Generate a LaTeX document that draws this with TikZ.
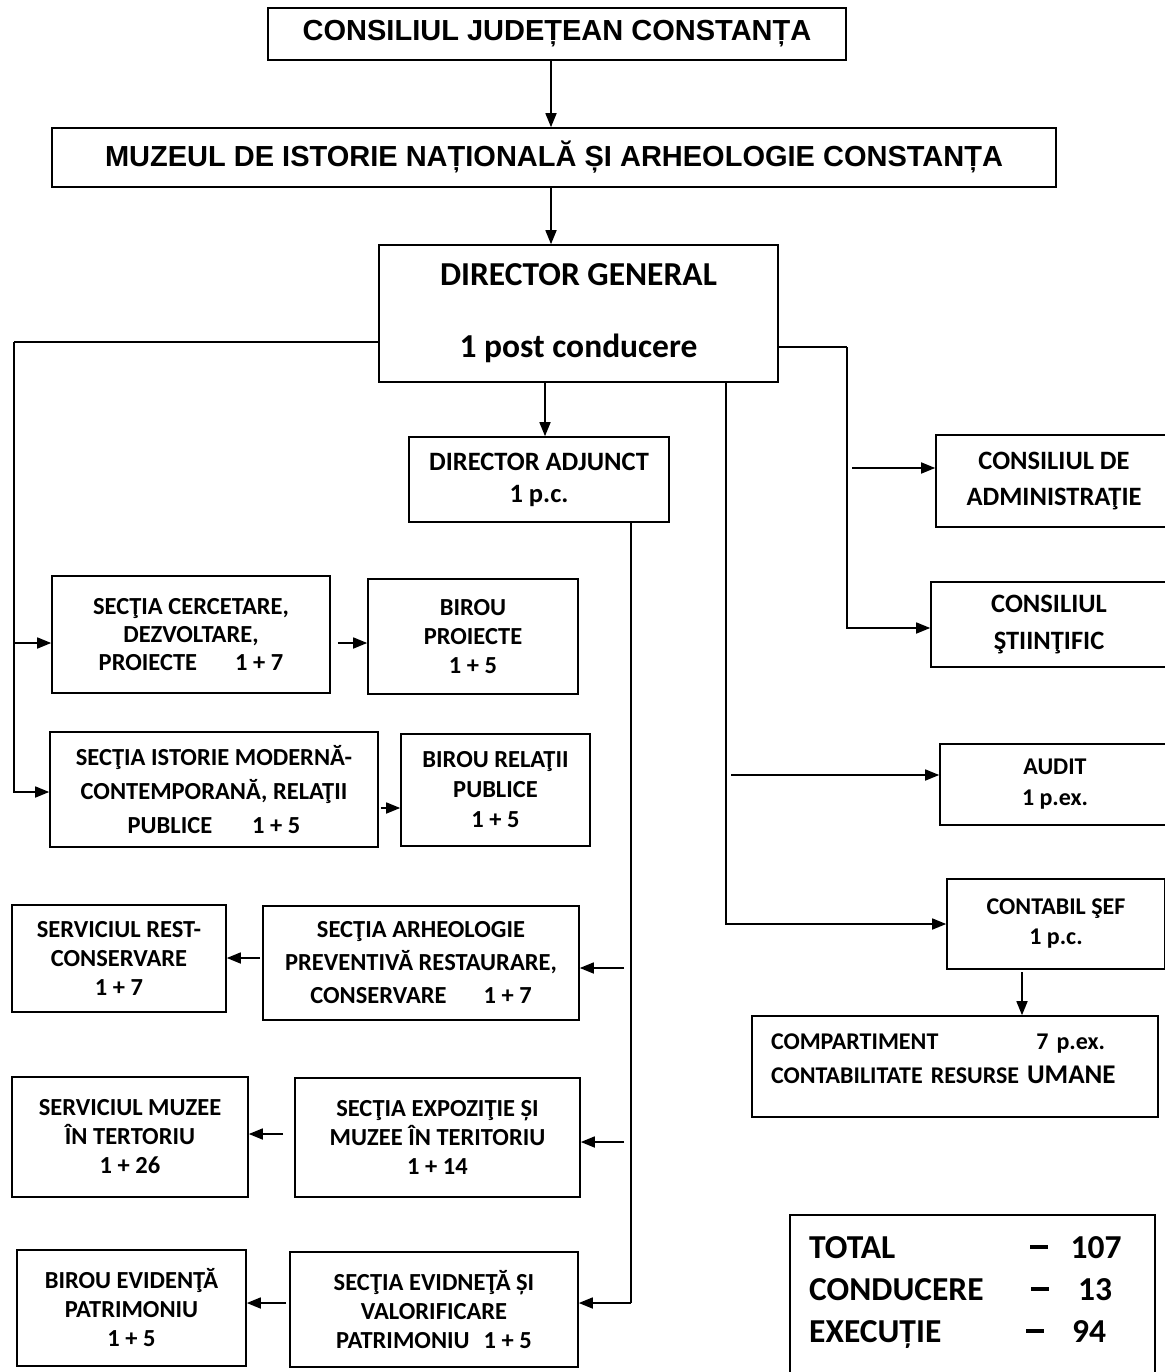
\documentclass[tikz,border=0pt]{standalone}
\usepackage{fontspec}
\setmainfont{Carlito}
\newfontfamily\arialfont{Liberation Sans}
\usetikzlibrary{arrows.meta}
\begin{document}
\begin{tikzpicture}[x=1pt,y=-1pt,
  box/.style={draw, line width=1.6pt, inner sep=0pt, align=center},
  f24/.style={font=\bfseries\fontsize{24.5}{29}\selectfont},
  line/.style={line width=1.6pt},
  arr/.style={line width=1.6pt, -{Triangle[length=14pt,width=11pt]}},
  tt/.style={inner sep=0pt, font=\bfseries\fontsize{33.5}{40}\selectfont},
  title/.style={font=\arialfont\bfseries\fontsize{29}{35}\selectfont}
]
\useasboundingbox (0,0) rectangle (1164,1372);
\fill[white] (0,0) rectangle (1164,1372);

% top
\node[box, title, minimum width=578pt, minimum height=52pt] (cj) at (557,34) {CONSILIUL JUDEȚEAN CONSTANȚA};
\node[box, title, minimum width=1004pt, minimum height=59pt] (mi) at (554,157.5) {MUZEUL DE ISTORIE NAȚIONALĂ ȘI ARHEOLOGIE CONSTANȚA};
\node[box, minimum width=399pt, minimum height=137pt, font=\bfseries\fontsize{33.5}{72}\selectfont] (dg) at (578.5,313.5) {DIRECTOR GENERAL\\1 post conducere};
\node[box, minimum width=260pt, minimum height=85pt, font=\bfseries\fontsize{26.5}{32}\selectfont] (da) at (539,479.5) {DIRECTOR ADJUNCT\\1 p.c.};

% left column
\node[box, minimum width=278pt, minimum height=117pt, font=\bfseries\fontsize{24.5}{28}\selectfont] (sc) at (191,634.5) {SECŢIA CERCETARE,\\DEZVOLTARE,\\PROIECTE\hspace{38pt}1 + 7};
\node[box, f24, minimum width=210pt, minimum height=115pt] (bp) at (473,636.5) {BIROU\\PROIECTE\\1 + 5};
\node[box, minimum width=328pt, minimum height=115pt, font=\bfseries\fontsize{24.5}{34}\selectfont] (si) at (214,789.5) {SECŢIA ISTORIE MODERNĂ-\\CONTEMPORANĂ, RELAŢII\\PUBLICE\hspace{40pt}1 + 5};
\node[box, minimum width=189pt, minimum height=112pt, font=\bfseries\fontsize{24.5}{30}\selectfont] (br) at (495.5,790) {BIROU RELAŢII\\PUBLICE\\1 + 5};
\node[box, f24, minimum width=214pt, minimum height=107pt] (sr) at (119,958.5) {SERVICIUL REST-\\CONSERVARE\\1 + 7};
\node[box, minimum width=316pt, minimum height=114pt, font=\bfseries\fontsize{24.5}{33}\selectfont] (sa) at (421,963) {SECŢIA ARHEOLOGIE\\PREVENTIVĂ RESTAURARE,\\CONSERVARE\hspace{37pt}1 + 7};
\node[box, f24, minimum width=236pt, minimum height=120pt] (sm) at (130,1137) {SERVICIUL MUZEE\\ÎN TERTORIU\\1 + 26};
\node[box, f24, minimum width=285pt, minimum height=119pt] (se) at (437.5,1137.5) {SECŢIA EXPOZIŢIE ȘI\\MUZEE ÎN TERITORIU\\1 + 14};
\node[box, f24, minimum width=229pt, minimum height=116pt] (be) at (131.5,1308) {BIROU EVIDENŢĂ\\PATRIMONIU\\1 + 5};
\node[box, f24, minimum width=288pt, minimum height=115pt] (sv) at (434,1309.5) {SECŢIA EVIDNEŢĂ ȘI\\VALORIFICARE\\PATRIMONIU\hspace{14pt}1 + 5};

% right column
\node[box, minimum width=236pt, minimum height=92pt, font=\bfseries\fontsize{26.5}{36.5}\selectfont] (ca) at (1054,481) {CONSILIUL DE\\ADMINISTRAŢIE};
\node[box, minimum width=236pt, minimum height=85pt, font=\bfseries\fontsize{26.5}{37}\selectfont] (cs) at (1049,624.5) {CONSILIUL\\ŞTIINŢIFIC};
\node[box, minimum width=230pt, minimum height=81pt, font=\bfseries\fontsize{24}{31}\selectfont] (au) at (1055,784.5) {AUDIT\\1 p.ex.};
\node[box, minimum width=218pt, minimum height=90pt, font=\bfseries\fontsize{24}{30}\selectfont] (cb) at (1056,924) {CONTABIL ŞEF\\1 p.c.};
\node[box, minimum width=406pt, minimum height=101pt, align=left, inner xsep=19pt, text width=368pt, font=\bfseries\fontsize{24}{34}\selectfont] (cp) at (955,1066.5) {COMPARTIMENT\hspace{98pt}7 p.ex.\\CONTABILITATE RESURSE {\fontsize{27}{34}\selectfont UMANE}\rule[-15pt]{0pt}{15pt}};

% totals
\node[box, minimum width=365pt, minimum height=175pt] (tot) at (972.5,1302.5) {};
\node[tt, anchor=base west] (t1) at (809,1258) {TOTAL};
\node[tt, anchor=base] (d1) at (1039,1258) {\rule[9.5pt]{18pt}{3.2pt}};
\node[tt, anchor=base] (n1) at (1096,1258) {107};
\node[tt, anchor=base west] (t2) at (809,1300) {CONDUCERE};
\node[tt, anchor=base] (d2) at (1040,1300) {\rule[9.5pt]{18pt}{3.2pt}};
\node[tt, anchor=base] (n2) at (1095,1300) {13};
\node[tt, anchor=base west] (t3) at (809,1342) {EXECUȚIE};
\node[tt, anchor=base] (d3) at (1035,1342) {\rule[9.5pt]{18pt}{3.2pt}};
\node[tt, anchor=base] (n3) at (1089,1342) {94};

% connectors top
\draw[arr] ([xshift=-6pt]cj.south) -- ([xshift=-6pt]cj.south |- mi.north);
\draw[arr] ([xshift=-3pt]mi.south) -- ([xshift=-3pt]mi.south |- dg.north);
\draw[arr] ([xshift=-33.5pt]dg.south) -- ([xshift=-33.5pt]dg.south |- da.north);

% left tree
\coordinate (lt) at (14,342);
\draw[line] ([yshift=-28.5pt]dg.west) -- (lt);
\draw[arr] (lt) |- ([yshift=-2.5pt]si.west);
\coordinate (scA) at ([yshift=-8.5pt]sc.west);
\draw[arr] (lt |- scA) -- (scA);
\draw[arr] ([xshift=7pt,yshift=-8.5pt]sc.east) -- ([yshift=-8.5pt]sc.east -| bp.west);
\draw[arr] ([xshift=2pt,yshift=-18.5pt]si.east) -- ([yshift=-18.5pt]si.east -| br.west);

% director adjunct tree
\coordinate (dv) at (631,1303);
\draw[line] (da.south -| dv) -- (dv);
\draw[arr] (dv) -- (dv -| sv.east);
\coordinate (a1) at (624,968);
\draw[arr] (a1) -- (a1 -| sa.east);
\coordinate (a2) at (624,1142);
\draw[arr] (a2) -- (a2 -| se.east);
\draw[arr] ([xshift=-2pt,yshift=5pt]sa.west) -- ([yshift=5pt]sa.west -| sr.east);
\draw[arr] ([xshift=-11pt,yshift=3.5pt]se.west) -- ([yshift=3.5pt]se.west -| sm.east);
\draw[arr] ([xshift=-3pt,yshift=6.5pt]sv.west) -- ([yshift=6.5pt]sv.west -| be.east);

% right tree
\coordinate (rt) at (847,347);
\draw[line] ([yshift=-33.5pt]dg.east) -- (rt);
\draw[arr] (rt) |- ([yshift=-3.5pt]cs.west);
\coordinate (ca0) at (852,468);
\draw[arr] (ca0) -- (ca0 -| ca.west);
\coordinate (mb) at (726,925);
\draw[arr] (dg.south -| mb) |- (cb.west);
\coordinate (au0) at (731,775);
\draw[arr] (au0) -- (au0 -| au.west);
\coordinate (cb0) at (1022,972);
\draw[arr] (cb0) -- (cb0 |- cp.north);
\end{tikzpicture}
\end{document}
